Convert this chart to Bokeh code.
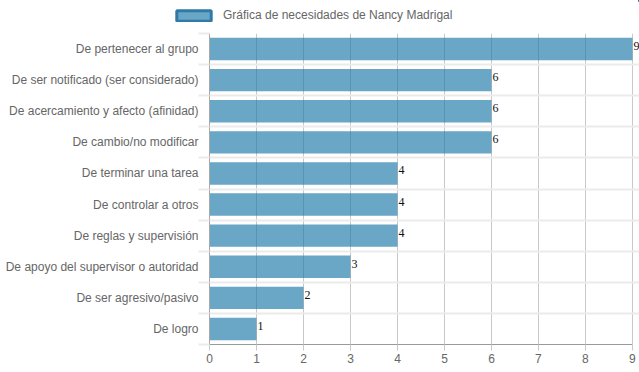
from bokeh.plotting import figure
from bokeh.layouts import column
from bokeh.models import ColumnDataSource, Range1d, FixedTicker, Legend, LegendItem, LabelSet
from bokeh.embed import file_html
from bokeh.resources import INLINE

categories = ["De pertenecer al grupo", "De ser notificado (ser considerado)",
              "De acercamiento y afecto (afinidad)", "De cambio/no modificar",
              "De terminar una tarea", "De controlar a otros", "De reglas y supervisión",
              "De apoyo del supervisor o autoridad", "De ser agresivo/pasivo", "De logro"]
values = [9, 6, 6, 6, 4, 4, 4, 3, 2, 1]
series_name = "Gráfica de necesidades de Nancy Madrigal"
x_ticks = [0, 1, 2, 3, 4, 5, 6, 7, 8, 9]

n = len(categories)
idx = list(range(n))
src = ColumnDataSource(dict(y=idx, v=values, lbl=[str(v) for v in values]))
bar_col = "#1a76a6"

# ---- legend strip (its bars lie outside its visible range; only the legend shows) ----
lf = figure(width=639, height=32, output_backend="svg", toolbar_location=None,
            x_range=Range1d(-2, -1), y_range=Range1d(-2, -1),
            min_border=0, x_axis_location=None, y_axis_location=None)
lf.frame_align = False
lf.outline_line_color = None
lf.grid.visible = False
dummy = lf.hbar(y="y", right="v", left=0, height=0.7, source=src,
                fill_color=bar_col, fill_alpha=0.65, line_color="#2f7aa6", line_width=3)
legend = Legend(items=[LegendItem(label=series_name, renderers=[dummy])],
                location=(172, 10), orientation="horizontal",
                glyph_width=43, glyph_height=13, label_standoff=8,
                padding=3, margin=0, border_line_color=None, background_fill_alpha=0,
                label_text_font="Liberation Sans", label_text_font_size="12px",
                label_text_color="#666666", label_height=12)
lf.add_layout(legend, "center")

# ---- main chart ----
p = figure(width=639, height=340, output_backend="svg", toolbar_location=None,
           x_range=Range1d(0, max(x_ticks) + 0.15), y_range=Range1d(n - 0.5, -0.5),
           min_border_left=209, min_border_right=0, min_border_top=1, min_border_bottom=28)
p.frame_align = False
p.outline_line_color = None
p.background_fill_color = "white"

p.hbar(y="y", right="v", left=0, height=0.72, source=src,
       fill_color=bar_col, fill_alpha=0.65, line_color=None)

labels = LabelSet(x="v", y="y", text="lbl", source=src, x_offset=1, y_offset=3,
                  text_baseline="middle", text_align="left", text_font="Liberation Serif",
                  text_font_size="12px", text_color="#111111")
p.add_layout(labels)

# x axis
p.xaxis.ticker = FixedTicker(ticks=x_ticks)
p.xaxis.bounds = (min(x_ticks), max(x_ticks))
p.xaxis.axis_line_color = "#9a9a9a"
p.xaxis.major_tick_line_color = "#c9c9c9"
p.xaxis.major_tick_out = 6
p.xaxis.major_tick_in = 0
p.xaxis.minor_tick_line_color = None
p.xaxis.major_label_standoff = 3
p.xaxis.major_label_text_font = "Liberation Sans"
p.xaxis.major_label_text_font_size = "12px"
p.xaxis.major_label_text_color = "#666666"

# y axis
p.yaxis.ticker = FixedTicker(ticks=idx, minor_ticks=[i - 0.5 for i in range(n + 1)])
p.yaxis.major_label_overrides = {i: c for i, c in enumerate(categories)}
p.yaxis.axis_line_color = "#a8a8a8"
p.yaxis.major_tick_line_color = None
p.yaxis.major_tick_out = 0
p.yaxis.major_tick_in = 0
p.yaxis.minor_tick_out = 11
p.yaxis.minor_tick_in = 0
p.yaxis.minor_tick_line_color = "#ebebeb"
p.yaxis.minor_tick_line_width = 2
p.yaxis.major_label_standoff = 0
p.yaxis.major_label_text_font = "Liberation Sans"
p.yaxis.major_label_text_font_size = "12px"
p.yaxis.major_label_text_color = "#666666"

# grids
p.xgrid.ticker = FixedTicker(ticks=x_ticks)
p.xgrid.grid_line_color = "#c9c9c9"
p.xgrid.grid_line_width = 1
p.ygrid.ticker = FixedTicker(ticks=[i - 0.5 for i in range(n + 1)])
p.ygrid.grid_line_color = "#ebebeb"
p.ygrid.grid_line_width = 2

layout = column(lf, p, spacing=0)
open("out.html", "w").write(file_html(layout, INLINE))
